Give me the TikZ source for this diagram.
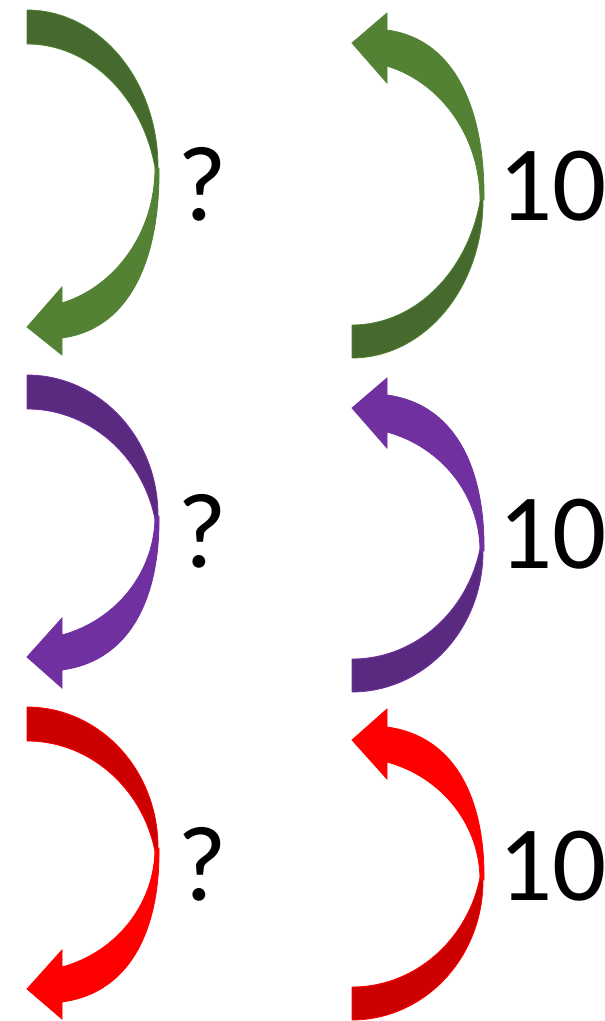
\documentclass[tikz,border=0pt]{standalone}
\usepackage{fontspec}
\setmainfont{Carlito}
\definecolor{gL}{HTML}{548235}
\definecolor{gD}{HTML}{466A2D}
\definecolor{pL}{HTML}{7030A0}
\definecolor{pD}{HTML}{5A2A80}
\definecolor{rL}{HTML}{FF0000}
\definecolor{rD}{HTML}{CC0000}
\tikzset{
  lbl/.style={font=\fontsize{107}{110}\selectfont, inner sep=0pt, text=black},
  backpart/.style={fill=#1D, draw=#1L, line width=0.8pt, line join=round},
  frontpart/.style={fill=#1L, draw=#1L, line width=0.8pt, line join=miter},
}
% arrow curving right and pointing down-left at the bottom
% #1 x0, #2 top, #3 mid, #4 shaft inner, #5 shaft outer, #6 tip, #7 barb up, #8 barb down, #9 colour prefix
\newcommand\ArrDown[9]{%
  \pgfmathsetmacro\rD{#3-(#2)}%
  \pgfmathsetmacro\phiD{asin(17/\rD)}%
  \pgfmathsetmacro\rIn{(#4-(#3)-1)/0.962}%
  \pgfmathsetmacro\thi{acos(35/128)}%
  \pgfmathsetmacro\cy{#3+0.485*(#5-(#3))}%
  \path[backpart=#9] (#1,#2) arc[start angle=-90,end angle=\phiD,x radius=131,y radius=\rD]
     arc[start angle=-\phiD,end angle=-90,x radius=131,y radius=\rD] -- cycle;
  \path[frontpart=#9] (#1+132,#3+1) .. controls (#1+133,\cy) and (#1+108,#5-10) .. (#1+35,#5)
     -- (#1+35,#8) -- (#1,#6) -- (#1+35,#7) -- (#1+35,#4)
     arc[start angle=\thi,end angle=0,x radius=128,y radius=\rIn] -- cycle;
}
% arrow curving right from the bottom and pointing up-left at the top
% #1 x0, #2 bottom, #3 mid, #4 shaft inner, #5 shaft outer, #6 tip, #7 barb up, #8 barb down, #9 colour prefix
\newcommand\ArrUp[9]{%
  \pgfmathsetmacro\rD{#2-(#3)}%
  \pgfmathsetmacro\phiD{asin(16.5/\rD)}%
  \pgfmathsetmacro\rIn{(#3-(#4)-1)/0.962}%
  \pgfmathsetmacro\thi{acos(35/128)}%
  \pgfmathsetmacro\cy{#3-0.485*(#3-(#5))}%
  \path[backpart=#9] (#1,#2) arc[start angle=90,end angle=-\phiD,x radius=131,y radius=\rD]
     arc[start angle=\phiD,end angle=90,x radius=131,y radius=\rD] -- cycle;
  \path[frontpart=#9] (#1+132,#3-1) .. controls (#1+133,\cy) and (#1+108,#5+10) .. (#1+35,#5)
     -- (#1+35,#7) -- (#1,#6) -- (#1+35,#8) -- (#1+35,#4)
     arc[start angle=-\thi,end angle=0,x radius=128,y radius=\rIn] -- cycle;
}
\begin{document}
\begin{tikzpicture}[x=1pt,y=-1pt]
\useasboundingbox (0,0) rectangle (605,1021);
% left column
\ArrDown{27}{10}{167}{303}{338}{327}{287}{355}{g}
\ArrDown{27}{375}{515}{635}{670}{657}{618}{688}{p}
\ArrDown{27}{707}{847}{967}{1002}{989}{950}{1019}{r}
% right column
\ArrUp{352}{358}{201}{66}{30}{43}{13}{83}{g}
\ArrUp{352}{692}{552}{432}{395}{408}{378}{448}{p}
\ArrUp{352}{1020}{881}{762}{727}{740}{709}{779}{r}
% labels
\node[lbl, anchor=base] (q1) at (202.5,220) {?};
\node[lbl, anchor=base] (q2) at (202.5,567) {?};
\node[lbl, anchor=base] (q3) at (202.5,900) {?};
\node[lbl, anchor=base west] (t1) at (498,220) {10};
\node[lbl, anchor=base west] (t2) at (498,568) {10};
\node[lbl, anchor=base west] (t3) at (498,900) {10};
\end{tikzpicture}
\end{document}
